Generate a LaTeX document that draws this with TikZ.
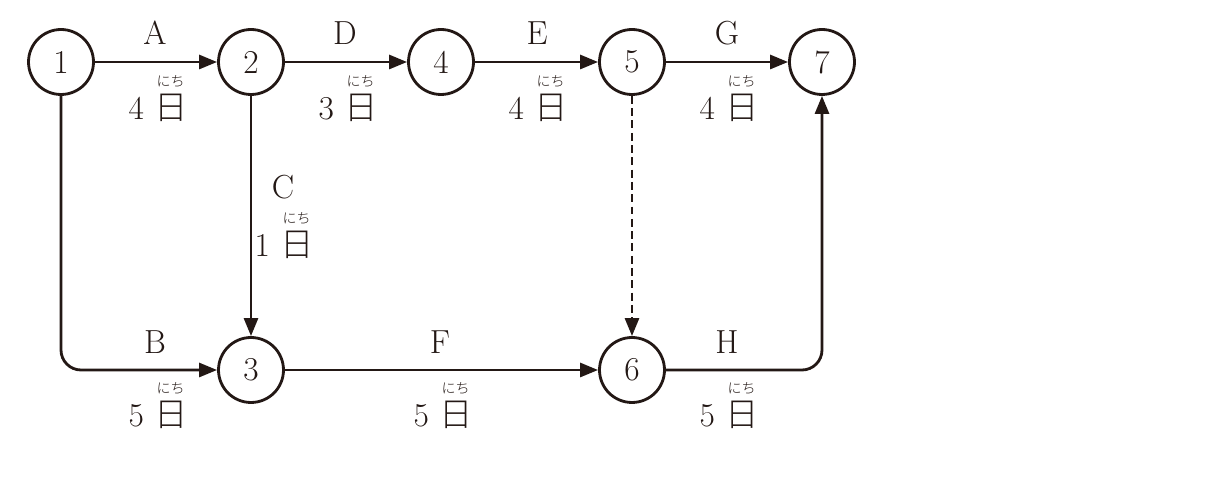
\documentclass[tikz,border=0pt]{standalone}
\usepackage{fontspec}
\newfontfamily\cjk[UprightFont={* Light}]{Noto Sans CJK JP}
\usetikzlibrary{arrows.meta}
\definecolor{ink}{HTML}{231815}

% 日 with its reading set small above it
\newcommand{\hi}{\leavevmode\rlap{\raisebox{1.0em}[0pt][0pt]{\makebox[1em]{\fontsize{8}{8}\selectfont\cjk にち}}}{\cjk 日}}

\tikzset{
  event/.style={draw=ink, text=ink, circle, line width=1.6pt, minimum size=1.3cm, inner sep=0pt, font=\fontsize{19}{19}\selectfont},
  job/.style={text=ink, font=\fontsize{19}{19}\selectfont, inner sep=1pt},
  link/.style={draw=ink, line width=1.6pt, -{Triangle[length=0.36cm, width=0.28cm]}, rounded corners=0.4cm},
}

\begin{document}
\begin{tikzpicture}[x=0.02cm, y=-0.02cm]
	\useasboundingbox (0,0) rectangle (1232,496);

	\node[event] (n1) at (61,62) {1};
	\node[event] (n2) at (251,62) {2};
	\node[event] (n4) at (441,62) {4};
	\node[event] (n5) at (632,62) {5};
	\node[event] (n7) at (822,62) {7};
	\node[event] (n3) at (251,370) {3};
	\node[event] (n6) at (632,370) {6};

	\draw[link] (n1) -- (n2);
	\draw[link] (n2) -- (n4);
	\draw[link] (n4) -- (n5);
	\draw[link] (n5) -- (n7);
	\draw[link] (n2) -- (n3);
	\draw[link] (n3) -- (n6);
	\draw[link, dash pattern=on 4.5pt off 2.5pt] (n5) -- (n6);
	\draw[link] (n1.south) |- (n3);
	\draw[link] (n6) -| (n7);

	\foreach \name/\x/\y in {A/155/33, D/345/33, E/537/33, G/727/33, C/283/187, B/155/342, F/440/342, H/727/342}{
		\node[job] (l\name) at (\x,\y) {\name};
	}

	\node[job] (dA) at (158,108) {4 \hi};
	\node[job] (dD) at (348,108) {3 \hi};
	\node[job] (dE) at (538,108) {4 \hi};
	\node[job] (dG) at (729,108) {4 \hi};
	\node[job] (dC) at (284,245) {1 \hi};
	\node[job] (dB) at (158,415) {5 \hi};
	\node[job] (dF) at (443,415) {5 \hi};
	\node[job] (dH) at (729,415) {5 \hi};

\end{tikzpicture}
\end{document}
